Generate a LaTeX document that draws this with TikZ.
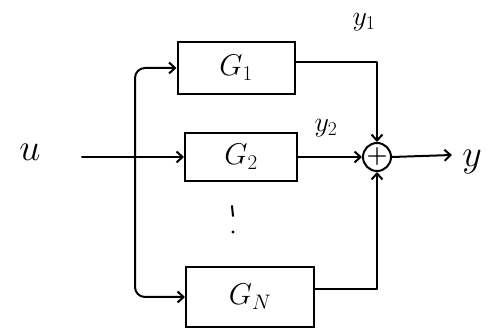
\documentclass[tikz,border=0pt]{standalone}
\usepackage{fix-cm}
\usetikzlibrary{arrows.meta}
\begin{document}
\begin{tikzpicture}[x=1pt,y=-1pt,
  wire/.style={line width=2pt, line cap=round, line join=round},
  arr/.style={wire,-{Straight Barb[length=6pt,width=11pt,line width=2pt]}},
  block/.style={draw, line width=2pt, inner sep=0pt, font=\fontsize{30}{34}\selectfont},
  sumnode/.style={draw, circle, line width=2pt, minimum size=28pt, inner sep=0pt, font=\fontsize{24}{26}\selectfont\bfseries},
  lab/.style={inner sep=0pt, font=\fontsize{38}{42}\selectfont},
  sublab/.style={inner sep=0pt, font=\fontsize{28}{32}\selectfont}]
\useasboundingbox (0,0) rectangle (498,336);

% blocks of the parallel branches
\node[block, minimum width=117pt, minimum height=52pt] (g1) at (236,68) {$G_1$};
\node[block, minimum width=112pt, minimum height=48pt] (g2) at (241,157) {$G_2$};
\node[block, minimum width=128pt, minimum height=60pt] (gn) at (250,297) {$G_N$};

% vertical ellipsis between G2 and GN
\draw[wire] (232,206) -- (233,216);
\fill (233,232) circle (1.6pt);

% summing junction
\node[sumnode] (s) at (377,157) {+};

% input, split point and output end
\node[lab] (u) at (30,152) {$u$};
\coordinate (uin) at (82,157);
\coordinate (jn) at (135,157);
\coordinate (yout) at (452,155);
\node[lab] (y) at (472,162) {$y$};

% signal labels
\node[sublab] (y1) at (364,22) {$y_1$};
\node[sublab] (y2) at (326,128) {$y_2$};

% input distribution
\draw[arr] (uin) -- (g2.west);
\draw[arr, rounded corners=10pt] (jn) |- (g1.west);
\draw[arr, rounded corners=10pt] (jn) |- (gn.west);

% branch outputs into the sum
\draw[arr] ([yshift=6pt]g1.east) -| (s.north);
\draw[arr] (g2.east) -- (s.west);
\draw[arr] ([yshift=8pt]gn.east) -| (s.south);

% output
\draw[arr] (s.east) -- (yout);
\end{tikzpicture}
\end{document}
